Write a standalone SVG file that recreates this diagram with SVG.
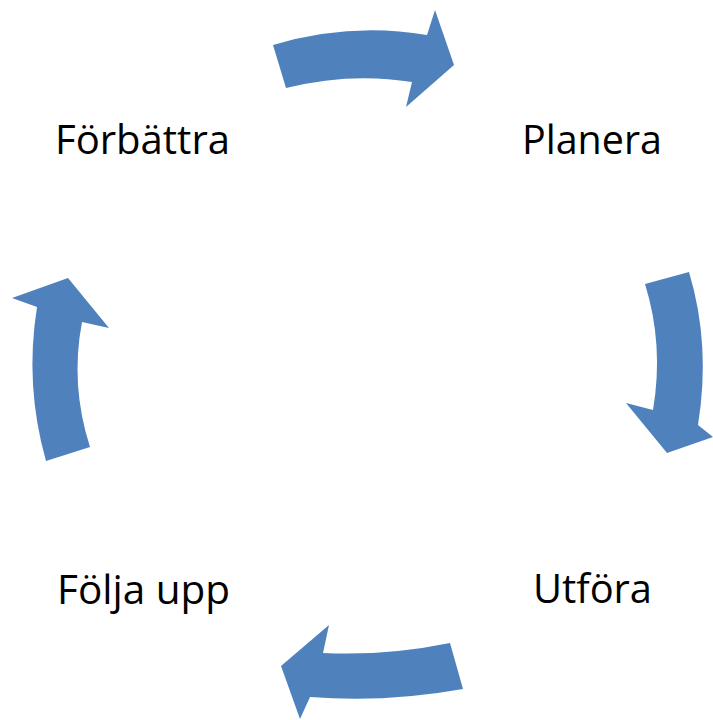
<svg xmlns="http://www.w3.org/2000/svg" width="713" height="720" viewBox="0 0 713 720">
<style>
.lbl{font-family:"Open Sans","Liberation Sans",sans-serif;font-size:40px;fill:#000}
.arr{fill:#4F81BD}
</style>
<rect width="713" height="720" fill="#fff"/>
<g id="connectors">
<path class="arr" d="M273,45 Q350,22 427,35 L435,10 L454,65 L406,107 L412,82 Q350,72 286,88 Z"/>
<path class="arr" d="M645,284 Q664,345 653,410 L626,403 L667,453 L713,437 L698,425 Q711,345 689,272 Z"/>
<path class="arr" d="M450,643 Q387,656 323,653 L329,625 L281,666 L300,719 L310,697 Q385,703 463,689 Z"/>
<path class="arr" d="M46,461 Q24.5,385 37,307 L12,298 L68,278 L109,328 L82,322 Q70,385 90,447 Z"/>
</g>
<g id="planera"><text class="lbl" x="522" y="154" textLength="140" lengthAdjust="spacingAndGlyphs">Planera</text></g>
<g id="utfora"><text class="lbl" x="533" y="603" textLength="119" lengthAdjust="spacingAndGlyphs">Utföra</text></g>
<g id="folja-upp"><text class="lbl" x="57" y="604" textLength="173" lengthAdjust="spacingAndGlyphs">Följa upp</text></g>
<g id="forbattra"><text class="lbl" x="55" y="154" textLength="175" lengthAdjust="spacingAndGlyphs">Förbättra</text></g>
</svg>
